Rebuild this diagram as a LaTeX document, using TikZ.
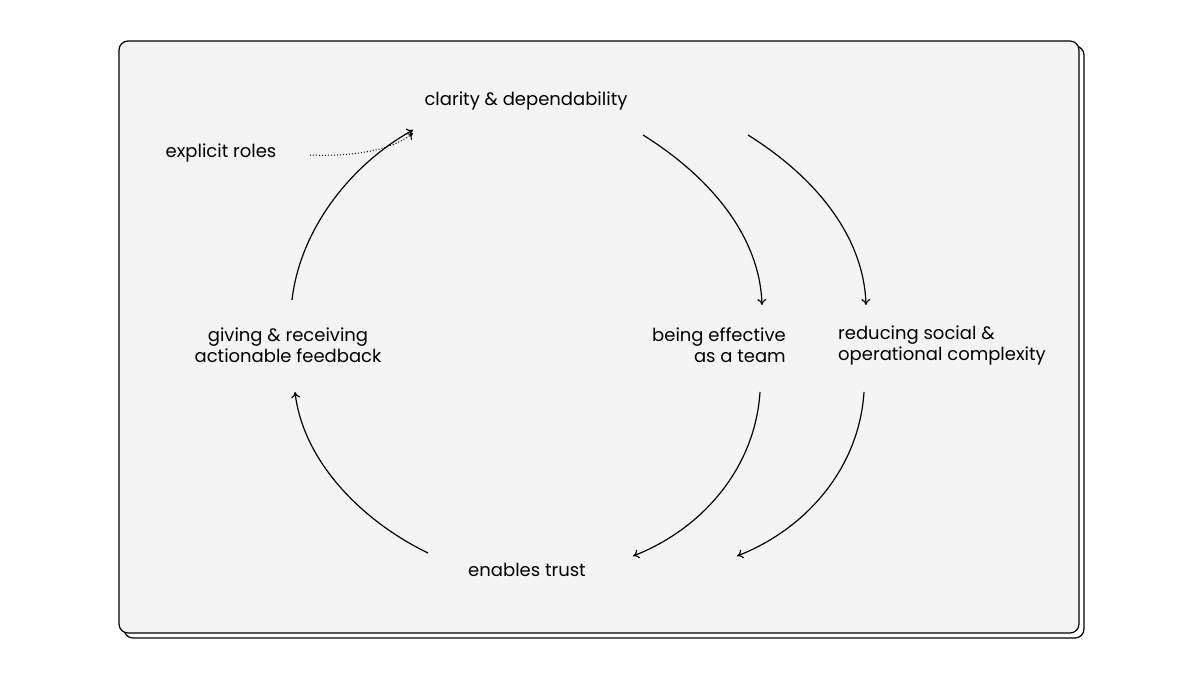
\documentclass[tikz,border=0pt]{standalone}
\usepackage{fontspec}
\setmainfont{Poppins}
\usetikzlibrary{arrows.meta}
\begin{document}
\begin{tikzpicture}[x=1pt,y=-1pt,
  lbl/.style={font=\fontsize{18}{21}\selectfont, align=center, inner sep=0},
  arr/.style={line width=1.2pt, -{To[length=6pt,width=9pt]}},
  card/.style={draw=black, line width=1.2pt, rounded corners=9pt}]
\useasboundingbox (0,0) rectangle (1200,675);
\fill[white] (0,0) rectangle (1200,675);
\draw[card, fill=white] (124,46) rectangle (1084,638);
\draw[card, fill={rgb,255:red,244;green,244;blue,244}] (119,41) rectangle (1079,633);
\node[lbl] (cd) at (526,101) {clarity \& dependability};
\node[lbl] (er) at (221,153) {explicit roles};
\node[lbl] (gr) at (288,345) {giving \& receiving\\actionable feedback};
\node[lbl, align=right] (be) at (719,345) {being effective\\as a team};
\node[lbl, align=left] (rs) at (942,345) {reducing social \&\\operational complexity};
\node[lbl] (et) at (527,570) {enables trust};
\coordinate (a1) at (643,135); \coordinate (a2) at (762,305);
\coordinate (b1) at (748,135); \coordinate (b2) at (866,305);
\coordinate (c1) at (760,392); \coordinate (c2) at (633,556);
\coordinate (d1) at (864,392); \coordinate (d2) at (737,556);
\coordinate (e1) at (428,553); \coordinate (e2) at (295,392);
\coordinate (f1) at (292,300); \coordinate (f2) at (413,130);
\coordinate (g1) at (310,155); \coordinate (g2) at (413,133);
\draw[arr] (a1) .. controls (715,180) and (760,240) .. (a2);
\draw[arr] (b1) .. controls (820,180) and (864,240) .. (b2);
\draw[arr] (c1) .. controls (755,470) and (700,530) .. (c2);
\draw[arr] (d1) .. controls (859,470) and (804,530) .. (d2);
\draw[arr] (e1) .. controls (360,520) and (303,460) .. (e2);
\draw[arr] (f1) .. controls (300,230) and (350,165) .. (f2);
\draw[arr, line width=1pt, dotted] (g1) .. controls (360,157) and (395,148) .. (g2);
\end{tikzpicture}
\end{document}
